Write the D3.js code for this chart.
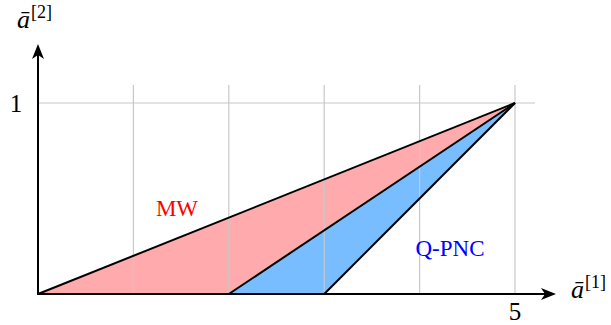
<!DOCTYPE html>
<html>
<head>
<meta charset="utf-8">
<script src="https://cdn.jsdelivr.net/npm/d3@7"></script>
<style>
  body { margin: 0; background: #fff; }
</style>
</head>
<body>
<div id="chart"></div>
<script>
// Region data (x = a[1], y = a[2])
let mwRegion = [[0, 0], [5, 1], [2, 0]];
let qpncRegion = [[2, 0], [5, 1], [3, 0]];
// Boundary lines, all meeting at (5, 1)
let boundaryLines = [
    [[0, 0], [5, 1]],
    [[2, 0], [5, 1]],
    [[3, 0], [5, 1]]
];
let gridX = [1, 2, 3, 4, 5];
let gridY = [1];
let xTicks = [5];
let yTicks = [1];

let svgWidth = 611;
let svgHeight = 325;
let serif = "'Liberation Serif', 'DejaVu Serif', serif";

let svg = d3.select("#chart")
    .append("svg")
    .attr("width", svgWidth)
    .attr("height", svgHeight);

// scales
let x = d3.scaleLinear().domain([0, 5]).range([38, 515]);
let y = d3.scaleLinear().domain([0, 1]).range([294, 103]);

let line = d3.line().x(d => x(d[0])).y(d => y(d[1]));

// fills
svg.append("path")
    .attr("d", line(mwRegion) + "Z")
    .attr("fill", "#ffabad");
svg.append("path")
    .attr("d", line(qpncRegion) + "Z")
    .attr("fill", "#78bdff");

// grid on top of fills
svg.selectAll(".gx")
    .data(gridX)
    .enter()
    .append("line")
    .attr("x1", d => x(d)).attr("x2", d => x(d))
    .attr("y1", 85).attr("y2", y(0))
    .attr("stroke", "#c8c8c8")
    .attr("stroke-width", 1.2);
svg.selectAll(".gy")
    .data(gridY)
    .enter()
    .append("line")
    .attr("x1", x(0)).attr("x2", 535)
    .attr("y1", d => y(d)).attr("y2", d => y(d))
    .attr("stroke", "#c8c8c8")
    .attr("stroke-width", 1.2);

// boundary lines
svg.selectAll(".bl")
    .data(boundaryLines)
    .enter()
    .append("path")
    .attr("d", d => line(d))
    .attr("fill", "none")
    .attr("stroke", "black")
    .attr("stroke-width", 2);

// axes with arrow heads
svg.append("line")
    .attr("x1", x(0) - 1).attr("x2", 550)
    .attr("y1", y(0)).attr("y2", y(0))
    .attr("stroke", "black").attr("stroke-width", 2);
svg.append("line")
    .attr("x1", x(0)).attr("x2", x(0))
    .attr("y1", y(0) + 1).attr("y2", 50)
    .attr("stroke", "black").attr("stroke-width", 2);

// stealth-like arrows
svg.append("path")
    .attr("d", `M556,${y(0)} L541,${y(0) - 6} L545,${y(0)} L541,${y(0) + 6} Z`)
    .attr("fill", "black");
svg.append("path")
    .attr("d", `M${x(0)},44 L${x(0) - 6},59 L${x(0)},55 L${x(0) + 6},59 Z`)
    .attr("fill", "black");

// tick labels
svg.selectAll(".xt")
    .data(xTicks)
    .enter()
    .append("text")
    .attr("x", d => x(d))
    .attr("y", 320)
    .attr("text-anchor", "middle")
    .style("font-family", serif)
    .style("font-size", "25px")
    .text(d => d);
svg.selectAll(".yt")
    .data(yTicks)
    .enter()
    .append("text")
    .attr("x", 16)
    .attr("y", d => y(d) + 9)
    .attr("text-anchor", "middle")
    .style("font-family", serif)
    .style("font-size", "25px")
    .text(d => d);

// axis titles
function axisTitle(px, py, sup) {
    let t = svg.append("text")
        .attr("x", px)
        .attr("y", py)
        .style("font-family", serif)
        .style("font-size", "26px");
    t.append("tspan").style("font-style", "italic").text("\u0101");
    t.append("tspan")
        .style("font-size", "18px")
        .attr("dy", -10)
        .attr("dx", 1)
        .text("[" + sup + "]");
}
axisTitle(17, 28, 2);
axisTitle(571, 298, 1);

// region labels
svg.append("text")
    .attr("x", 177)
    .attr("y", 216)
    .attr("text-anchor", "middle")
    .style("font-family", serif)
    .style("font-size", "23px")
    .attr("fill", "#ff0000")
    .text("MW");
svg.append("text")
    .attr("x", 450)
    .attr("y", 256)
    .attr("text-anchor", "middle")
    .style("font-family", serif)
    .style("font-size", "23px")
    .attr("fill", "#0000ff")
    .text("Q-PNC");
</script>
</body>
</html>
